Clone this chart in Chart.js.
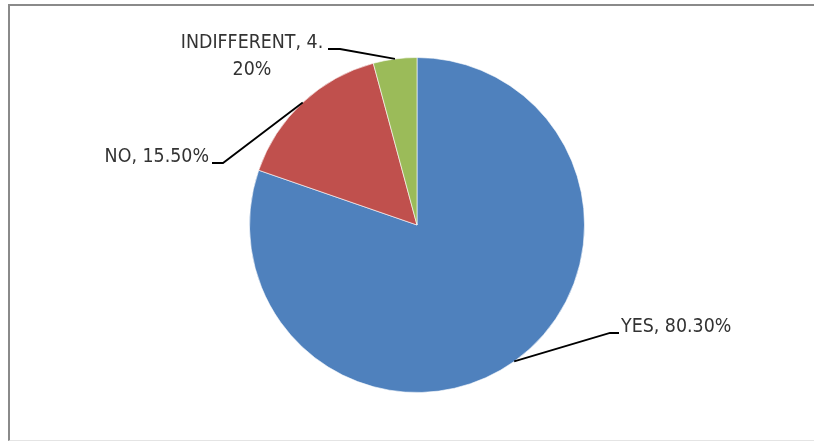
<!DOCTYPE html>
<html>
<head>
<meta charset="utf-8">
<script src="https://cdn.jsdelivr.net/npm/chart.js@4.4.0/dist/chart.umd.min.js"></script>
<style>
	html, body { margin: 0; padding: 0; background: #ffffff; overflow: hidden; }
	#wrap { position: relative; width: 814px; height: 441px; }
	#frame {
		position: absolute; left: 8px; top: 4px; width: 830px; height: 434px;
		border-left: 2px solid #8a8a8a; border-top: 2px solid #8a8a8a;
		border-bottom: 1px solid #e4e4e4;
	}
	#pieChart { position: absolute; left: 0; top: 0; }
</style>
</head>
<body>
<div id="wrap">
	<div id="frame"></div>
	<canvas id="pieChart" width="814" height="441"></canvas>
</div>
<script>
// chart data
const categories = ['YES', 'NO', 'INDIFFERENT'];
const shares = [80.3, 15.5, 4.2];
// label text as printed next to each slice
const labelLines = [
	['YES, 80.30%'],
	['NO, 15.50%'],
	['INDIFFERENT, 4.', '20%']
];
const sliceColors = ['#4f81bd', '#c0504d', '#9bbb59'];

// where each callout goes: elbow of the leader line, end of the short tail, text anchor
const callouts = [
	{ elbow: [610, 333], tail: [619, 333], text: [621, 327], align: 'left' },
	{ elbow: [223, 163], tail: [212, 163], text: [209, 157], align: 'right' },
	{ elbow: [340, 49], tail: [328, 49], text: [252, 43], align: 'center' }
];

const labelFont = "20px 'DejaVu Sans Condensed', 'Liberation Sans Narrow', sans-serif";
const squeeze = 0.97; // text is a little narrower than the condensed font

/**
 * Draws the Excel style data labels with leader lines
 */
const calloutPlugin = {
	id: 'callouts',
	afterDatasetsDraw(chart) {
		const ctx = chart.ctx;
		const meta = chart.getDatasetMeta(0);
		ctx.save();
		meta.data.forEach((arc, i) => {
			const c = callouts[i];
			const mid = (arc.startAngle + arc.endAngle) / 2;
			const sx = arc.x + Math.cos(mid) * arc.outerRadius;
			const sy = arc.y + Math.sin(mid) * arc.outerRadius;

			// leader line
			ctx.strokeStyle = '#000000';
			ctx.lineWidth = 1.8;
			ctx.beginPath();
			ctx.moveTo(sx, sy);
			ctx.lineTo(c.elbow[0], c.elbow[1]);
			ctx.lineTo(c.tail[0], c.tail[1]);
			ctx.stroke();

			// text
			ctx.fillStyle = '#333333';
			ctx.font = labelFont;
			ctx.textAlign = c.align;
			ctx.textBaseline = 'middle';
			labelLines[i].forEach((line, j) => {
				ctx.save();
				ctx.translate(c.text[0], c.text[1] + j * 27);
				ctx.scale(squeeze, 1);
				ctx.fillText(line, 0, 0);
				ctx.restore();
			});
		});
		ctx.restore();
	}
};

const config = {
	type: 'pie',
	data: {
		labels: categories,
		datasets: [{
			data: shares,
			backgroundColor: sliceColors,
			borderColor: 'rgba(255,255,255,0.6)',
			borderWidth: 1
		}]
	},
	options: {
		responsive: false,
		animation: false,
		layout: {
			padding: { top: 57, bottom: 48, left: 20, right: 0 }
		},
		plugins: {
			legend: { display: false },
			tooltip: { enabled: false }
		}
	},
	plugins: [calloutPlugin]
};

const pieChart = new Chart(document.getElementById('pieChart'), config);
</script>
</body>
</html>
